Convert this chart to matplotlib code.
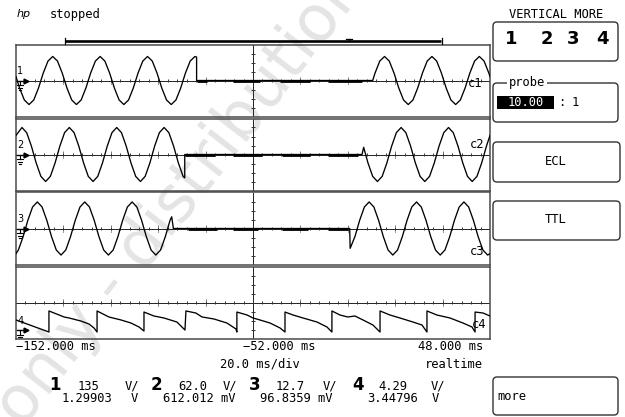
import matplotlib
matplotlib.use('Agg')
import matplotlib.pyplot as plt
import numpy as np
from matplotlib.patches import FancyBboxPatch, Rectangle

t_left, t_right, t_center = -152.0, 48.0, -52.0   # ms
step = 2.0                                          # ms between samples

# channel 1 (divisions)
ch1_head = [(-152.0, 0.42)]
ch1_b1_t0 = -150.5
ch1_b1 = [-0.83, -2.16, -2.67, -2.16, -0.83, 0.83, 2.16, 2.67, 2.16, 0.83,
          -0.83, -2.16, -2.67, -2.16, -0.83, 0.83, 2.16, 2.67, 2.16, 0.83,
          -0.83, -2.16, -2.67, -2.16, -0.83, 0.83, 2.16, 2.67, 2.16, 0.83,
          -0.83, -2.16, -2.67, -2.16, -0.83, 0.83, 2.16, 2.67]
ch1_mid = [(-75.8, 2.6), (-75.8, 0.0), (-1.5, 0.0)]
ch1_b2_t0 = -0.5
ch1_b2 = [0.83, 2.16, 2.67, 2.16, 0.83, -0.83, -2.16, -2.67, -2.16, -0.83,
          0.83, 2.16, 2.67, 2.16, 0.83, -0.83, -2.16, -2.67, -2.16, -0.83,
          0.83, 2.16, 2.67, 2.16, 0.83]
ch1_tail = [(48.0, 0.42)]
ch1_noise = [(-75.6, -71.4), (-60.4, -49.0), (-40.6, -28.0), (-20.4, -6.0)]

# channel 2
ch2_head = [(-152.0, 2.12)]
ch2_b1_t0 = -149.5
ch2_b1 = [3.0, 2.43, 0.93, -0.93, -2.43, -3.0, -2.43, -0.93, 0.93, 2.43,
          3.0, 2.43, 0.93, -0.93, -2.43, -3.0, -2.43, -0.93, 0.93, 2.43,
          3.0, 2.43, 0.93, -0.93, -2.43, -3.0, -2.43, -0.93, 0.93, 2.43,
          3.0, 2.43, 0.93, -0.93, -2.43]
ch2_mid = [(-80.8, -2.6), (-80.8, 0.0), (-6.0, 0.0), (-5.3, 0.8)]
ch2_b2_t0 = -3.5
ch2_b2 = [-0.93, -2.43, -3.0, -2.43, -0.93, 0.93, 2.43, 3.0, 2.43, 0.93,
          -0.93, -2.43, -3.0, -2.43, -0.93, 0.93, 2.43, 3.0, 2.43, 0.93,
          -0.93, -2.43, -3.0, -2.43, -0.93, 0.93]
ch2_tail = [(48.0, 2.12)]
ch2_noise = [(-80.7, -68.0), (-60.4, -48.2), (-39.8, -28.0), (-20.4, -7.7)]

# channel 3
ch3_head = [(-152.0, -2.8)]
ch3_b1_t0 = -151.0
ch3_b1 = [-2.39, -0.91, 0.91, 2.39, 2.95, 2.39, 0.91, -0.91, -2.39, -2.95,
          -2.39, -0.91, 0.91, 2.39, 2.95, 2.39, 0.91, -0.91, -2.39, -2.95,
          -2.39, -0.91, 0.91, 2.39, 2.95, 2.39, 0.91, -0.91, -2.39, -2.95,
          -2.39, -0.91, 0.91]
ch3_mid = [(-86.3, 1.3), (-85.6, 0.0), (-11.2, 0.0), (-11.0, -2.2)]
ch3_b2_t0 = -9.0
ch3_b2 = [-0.91, 0.91, 2.39, 2.95, 2.39, 0.91, -0.91, -2.39, -2.95, -2.39,
          -0.91, 0.91, 2.39, 2.95, 2.39, 0.91, -0.91, -2.39, -2.95, -2.39,
          -0.91, 0.91, 2.39, 2.95, 2.39, 0.91, -0.91, -2.39, -2.95]
ch3_tail = [(48.0, -2.8)]
ch3_noise = [(-79.4, -67.2), (-60.4, -49.9), (-39.8, -28.8), (-20.4, -11.9)]

# channel 4 (time ms, divisions)
ch4_t = [-152.0, -138.1, -138.1, -131.7, -129.6, -124.6, -121.2, -119.1, -117.8, -117.8,
         -112.8, -107.7, -103.5, -100.1, -98.0, -98.0, -93.8, -89.6, -84.1, -80.7,
         -80.3, -76.1, -73.5, -68.5, -63.0, -59.2, -58.8, -58.8, -54.5, -52.0,
         -49.1, -44.8, -40.6, -38.5, -38.5, -35.1, -30.9, -25.0, -20.8, -18.7,
         -18.7, -15.3, -12.0, -9.0, -5.6, -1.4, 1.6, 1.6, 5.8, 10.0,
         15.5, 19.3, 21.4, 21.4, 25.6, 31.1, 36.6, 40.4, 41.7, 41.7,
         45.1, 48.0]
ch4_v = [-1.94, -3.28, -0.94, -1.61, -1.72, -2.06, -2.39, -2.83, -3.28, -0.94,
         -1.61, -1.94, -2.28, -2.72, -3.17, -1.06, -1.50, -1.72, -2.17, -3.06,
         -0.94, -1.17, -1.61, -1.83, -2.28, -2.94, -3.28, -1.06, -1.39, -1.72,
         -1.94, -2.28, -2.83, -3.28, -1.06, -1.39, -1.72, -2.17, -2.72, -3.28,
         -0.94, -1.39, -1.61, -1.50, -1.94, -2.50, -3.28, -0.94, -1.39, -1.72,
         -2.17, -2.50, -3.28, -0.94, -1.39, -1.72, -2.28, -2.72, -3.28, -1.06,
         -1.17, -1.50]
ch_ref_levels = [0.0, 0.0, 0.0, -3.06]
ch_names = ['1', '2', '3', '4']

time_labels = ['\u2212152.000 ms', '\u221252.000 ms', '48.000 ms']
timebase_label = '20.0 ms/div'
mode_label = 'realtime'
scale_values = ['135', '62.0', '12.7', '4.29']
offset_values = ['1.29903', '612.012 mV', '96.8359 mV', '3.44796']

# ---------------- figure ----------------
W, H = 625, 417
fig = plt.figure(figsize=(W / 100, H / 100), dpi=100)
fig.patch.set_facecolor('white')

mono = dict(family='DejaVu Sans Mono', fontsize=8.7, color='black')


def build(head, t0a, a, mid, t0b, b, tail):
    pts = list(head)
    pts += [(t0a + step * i, v) for i, v in enumerate(a)]
    pts += list(mid)
    pts += [(t0b + step * i, v) for i, v in enumerate(b)]
    pts += list(tail)
    t, v = zip(*pts)
    return list(t), list(v)


traces = [
    build(ch1_head, ch1_b1_t0, ch1_b1, ch1_mid, ch1_b2_t0, ch1_b2, ch1_tail),
    build(ch2_head, ch2_b1_t0, ch2_b1, ch2_mid, ch2_b2_t0, ch2_b2, ch2_tail),
    build(ch3_head, ch3_b1_t0, ch3_b1, ch3_mid, ch3_b2_t0, ch3_b2, ch3_tail),
    (ch4_t, ch4_v),
]
noises = [ch1_noise, ch2_noise, ch3_noise, []]

# watermark (behind everything)
fig.text(23 / W, 1 - 429 / H, 'only - distribution', rotation=52, rotation_mode='anchor',
         ha='left', va='baseline', fontsize=46, color='#e4e4e4', family='DejaVu Sans',
         zorder=-10)

left_px, width_px = 16, 474
panel_h = 72
tops = [44.5, 118.5, 192.5, 266.5]
axes = []
for i, top in enumerate(tops):
    ax = fig.add_axes([left_px / W, 1 - (top + panel_h) / H, width_px / W, panel_h / H])
    ax.set_xlim(t_left, t_right)
    ax.set_ylim(-4, 4)
    ax.patch.set_alpha(0)
    ax.set_xticks([])
    ax.set_yticks([])
    for s in ax.spines.values():
        s.set_color('#4a4a4a')
        s.set_linewidth(1.1)
    # graticule
    ax.axhline(0, color='#222222', lw=0.7, zorder=1)
    ax.axvline(t_center, color='#222222', lw=0.7, zorder=1)
    minor = np.arange(t_left + 4, t_right, 4)
    ax.vlines(minor, -0.18, 0.18, color='#333333', lw=0.7, zorder=1)
    major = np.arange(t_left + 20, t_right, 20)
    ax.vlines(major, -0.42, 0.42, color='#333333', lw=0.7, linestyles=(0, (1, 1)), zorder=1)
    ax.hlines([-3, -2, -1, 1, 2, 3], t_center - 0.9, t_center + 0.9, color='#333333', lw=0.7, zorder=1)
    # trace
    t, v = traces[i]
    ax.plot(t, v, color='black', lw=0.95, zorder=3, solid_joinstyle='round')
    for a, b in noises[i]:
        ax.plot([a, b], [0, 0], color='black', lw=2.0, zorder=3, solid_capstyle='butt')
    # reference marker
    v0 = ch_ref_levels[i]
    ax.text(-150.1, v0 + 1.05, ch_names[i], ha='center', va='center',
            family='DejaVu Sans', fontsize=7, zorder=4)
    ax.plot([-151.4, -148.0], [v0, v0], color='black', lw=1.0, zorder=4)
    ax.plot([-147.6], [v0], marker='>', ms=3.5, color='black', zorder=4)
    gx = -150.4
    ax.plot([gx, gx], [v0, v0 - 0.55], color='black', lw=0.8, zorder=4)
    for dv, hw in [(0.55, 1.3), (0.8, 0.85), (1.05, 0.4)]:
        ax.plot([gx - hw, gx + hw], [v0 - dv, v0 - dv], color='black', lw=0.8, zorder=4)
    axes.append(ax)

# overlay in pixel coordinates
ov = fig.add_axes([0, 0, 1, 1], zorder=5)
ov.set_xlim(0, W)
ov.set_ylim(H, 0)
ov.axis('off')
ov.patch.set_alpha(0)

ov.text(17, 14, 'hp', family='DejaVu Sans', fontstyle='italic', fontsize=8, va='center')
ov.text(50, 14, 'stopped', va='center', **mono)
ov.text(556, 14, 'VERTICAL MORE', ha='center', va='center', **mono)

# memory bar
ov.plot([65, 441], [41.3, 41.3], color='black', lw=1.9, solid_capstyle='butt')
ov.plot([64.5, 64.5], [38, 44], color='black', lw=0.9)
ov.plot([442, 442], [38, 44], color='black', lw=0.9)
ov.plot([346, 352], [38.5, 38.5], color='black', lw=0.9)
ov.plot([349, 349], [38.5, 41], color='black', lw=0.9)

# channel end labels
for x, y, s in [(468, 83, 'c1'), (470, 144, 'c2'), (470, 251, 'c3'), (472, 325, 'c4')]:
    ov.text(x, y, s, va='center', **mono)


def rbox(x, y, w, h):
    ov.add_patch(FancyBboxPatch((x, y), w, h, boxstyle='round,pad=0,rounding_size=4',
                                fc='none', ec='#333333', lw=1.0))


rbox(493, 22, 125, 39)
for x, s in zip([511, 547, 573, 602], ch_names):
    ov.text(x, 39, s, ha='center', va='center', family='DejaVu Sans',
            fontweight='bold', fontsize=13)

rbox(493, 83, 125, 39)
ov.text(527, 82.5, 'probe', ha='center', va='center',
        bbox=dict(fc='white', ec='none', pad=1.5), **mono)
ov.add_patch(Rectangle((497, 96), 57, 13, fc='black', ec='none'))
ov.text(525.5, 102.5, '10.00', ha='center', va='center', family='DejaVu Sans Mono',
        fontsize=8.7, color='white')
ov.text(558, 102.5, ':', ha='left', va='center', **mono)
ov.text(572, 102.5, '1', ha='left', va='center', **mono)

rbox(493, 142, 127, 40)
ov.text(556, 161, 'ECL', ha='center', va='center', **mono)
rbox(493, 201, 127, 39)
ov.text(556, 219.5, 'TTL', ha='center', va='center', **mono)
rbox(493, 377, 125, 38)
ov.text(497, 396.5, 'more', ha='left', va='center', **mono)

# time labels
ov.text(16, 347, time_labels[0], va='center', **mono)
ov.text(243, 347, time_labels[1], va='center', **mono)
ov.text(483, 347, time_labels[2], ha='right', va='center', **mono)
ov.text(220, 364, timebase_label, va='center', **mono)
ov.text(483, 364, mode_label, ha='right', va='center', **mono)

# channel scales
num_x = [49, 151, 249, 352]
val_x = [78, 178, 276, 378]
unit_x = [125, 223, 323, 431]
for i in range(4):
    ov.text(num_x[i], 385, ch_names[i], va='center', family='DejaVu Sans',
            fontweight='bold', fontsize=12)
    ov.text(val_x[i], 386, scale_values[i], va='center', **mono)
    ov.text(unit_x[i], 386, 'V/', va='center', **mono)
off_x = [62, 163, 260, 367]
for i in range(4):
    ov.text(off_x[i], 398, offset_values[i], va='center', **mono)
ov.text(131, 398, 'V', va='center', **mono)
ov.text(432, 398, 'V', va='center', **mono)

fig.savefig('out.png', dpi=100)
